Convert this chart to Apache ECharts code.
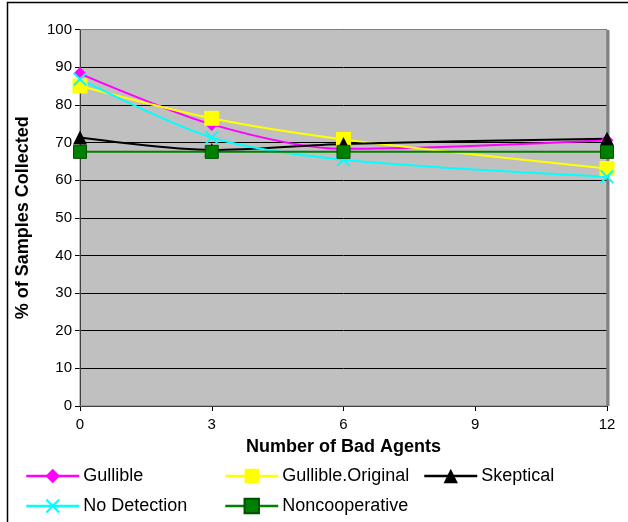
<!DOCTYPE html>
<html>
<head>
<meta charset="utf-8">
<script src="https://cdn.jsdelivr.net/npm/echarts@6/dist/echarts.min.js"></script>
<style>
  html, body { margin: 0; padding: 0; background: #ffffff; }
  #chart { width: 628px; height: 522px; }
</style>
</head>
<body>
<div id="chart"></div>
<script>
// Number of bad agents (x values)
const badAgents = [0, 3, 6, 12];
const xTicks = [0, 3, 6, 9, 12];

// % of samples collected per strategy
const gullible = [88.3, 74.8, 68.3, 70.6];
const gullibleOriginal = [85.0, 76.4, 70.8, 63.1];
const skeptical = [71.3, 68.0, 69.6, 71.0];
const noDetection = [86.8, 71.3, 65.4, 60.9];
const noncooperative = [67.5, 67.5, 67.5, 67.5];

const seriesNames = ['Gullible', 'Gullible.Original', 'Skeptical', 'No Detection', 'Noncooperative'];

const pairs = vals => badAgents.map((x, i) => [x, vals[i]]);

const crossPath = 'path://M0,1L1,0L5,4L9,0L10,1L6,5L10,9L9,10L5,6L1,10L0,9L4,5Z';
const FONT = 'Liberation Sans, Arial, sans-serif';

function lineSeries(name, vals, color, symbol, size, extra) {
  return Object.assign({
    name: name,
    type: 'line',
    data: pairs(vals),
    smooth: 0.3,
    symbol: symbol,
    symbolSize: size,
    lineStyle: { color: color, width: 2 },
    itemStyle: { color: color },
    emphasis: { disabled: true },
    animation: false
  }, extra || {});
}

// one legend entry per component so the entries sit in fixed columns
function legendItem(name, left, centerY) {
  return {
    left: left,
    top: centerY - 9,
    padding: 0,
    itemWidth: 53,
    itemHeight: 18,
    itemGap: 0,
    lineStyle: { width: 2.5 },
    textStyle: { fontFamily: FONT, fontSize: 18, color: '#000', padding: [0, 0, 0, -1] },
    data: [name],
    selectedMode: false
  };
}

const chart = echarts.init(document.getElementById('chart'), null, { renderer: 'canvas' });

chart.setOption({
  backgroundColor: '#ffffff',
  graphic: [
    {
      type: 'rect',
      shape: { x: 7.5, y: 2.5, width: 700, height: 600 },
      style: { fill: 'none', stroke: '#000', lineWidth: 1.5 },
      silent: true,
      z: -10
    },
    {
      type: 'rect',
      shape: { x: 80, y: 29.5, width: 527, height: 376.5 },
      style: { fill: 'none', stroke: '#808080', lineWidth: 1 },
      silent: true,
      z: 1
    },
    {
      type: 'line',
      shape: { x1: 608, y1: 30, x2: 608, y2: 406 },
      style: { stroke: '#808080', lineWidth: 3 },
      silent: true,
      z: 1
    }
  ],
  legend: [
    legendItem('Gullible', 25, 476),
    legendItem('Gullible.Original', 224, 476),
    legendItem('Skeptical', 423, 476),
    legendItem('No Detection', 25, 506),
    legendItem('Noncooperative', 224, 506)
  ],
  grid: {
    left: 80, top: 29.5, right: 21, bottom: 116,
    show: true, backgroundColor: '#C0C0C0', borderWidth: 0
  },
  xAxis: {
    type: 'value',
    min: 0, max: 12, interval: 3,
    name: 'Number of Bad Agents',
    nameLocation: 'middle',
    nameGap: 32,
    nameTextStyle: { fontFamily: FONT, fontSize: 18, fontWeight: 'bold', color: '#000' },
    axisLine: { onZero: false, lineStyle: { color: '#000', width: 1 } },
    axisTick: { show: true, length: 5, lineStyle: { color: '#000' } },
    axisLabel: {
      margin: 11,
      fontFamily: FONT, fontSize: 15, color: '#000',
      formatter: v => (xTicks.indexOf(v) >= 0 ? String(v) : '')
    },
    splitLine: { show: false }
  },
  yAxis: {
    type: 'value',
    min: 0, max: 100, interval: 10,
    name: '% of Samples Collected',
    nameLocation: 'middle',
    nameRotate: 90,
    nameGap: 48,
    nameTextStyle: { fontFamily: FONT, fontSize: 18, fontWeight: 'bold', color: '#000' },
    axisLine: { show: true, lineStyle: { color: '#000', width: 1 } },
    axisTick: { show: true, length: 5, lineStyle: { color: '#000' } },
    axisLabel: { margin: 8, fontFamily: FONT, fontSize: 15, color: '#000' },
    splitLine: { show: true, lineStyle: { color: '#000', width: 1 } }
  },
  series: [
    lineSeries(seriesNames[0], gullible, '#FF00FF', 'diamond', 13),
    lineSeries(seriesNames[1], gullibleOriginal, '#FFFF00', 'rect', 15),
    lineSeries(seriesNames[2], skeptical, '#000000', 'triangle', 14),
    lineSeries(seriesNames[3], noDetection, '#00FFFF', crossPath, 14),
    lineSeries(seriesNames[4], noncooperative, '#008000', 'rect', 13, {
      itemStyle: { color: '#008000', borderColor: '#005000', borderWidth: 1 }
    })
  ]
});
</script>
</body>
</html>
